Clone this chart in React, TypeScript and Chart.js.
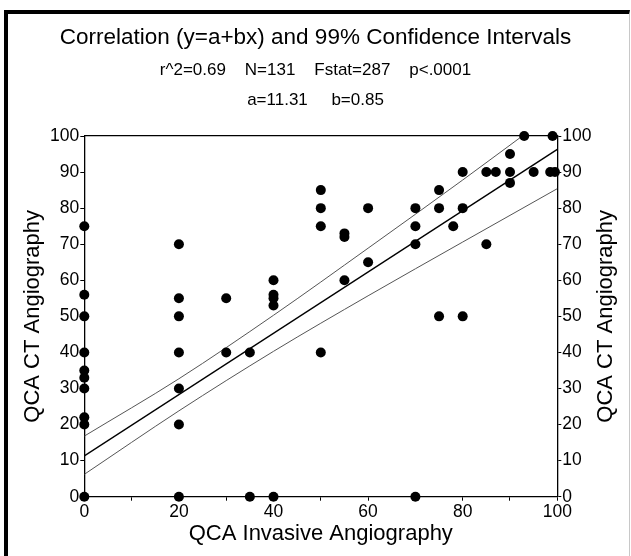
import React, { useEffect, useRef } from "react";
import { Chart, registerables } from "chart.js";

Chart.register(...registerables);

const FONT = "'Liberation Sans', Arial, Helvetica, sans-serif";

const TITLE = "Correlation (y=a+bx) and 99% Confidence Intervals";
const SUBTITLE_LINES = ["r^2=0.69    N=131    Fstat=287    p<.0001", "a=11.31     b=0.85"];
const X_TITLE = "QCA Invasive Angiography";
const Y_TITLE = "QCA CT Angiography";

// Observed points (QCA invasive, QCA CT)
const invasiveX = [
  0, 0, 0, 0, 0, 0, 0, 0, 0, 0,
  20, 20, 20, 20, 20, 20, 20,
  30, 30,
  35, 35,
  40, 40, 40, 40, 40,
  50, 50, 50, 50,
  55, 55, 55,
  60, 60,
  70, 70, 70, 70,
  75, 75, 75,
  78,
  80, 80, 80,
  85, 85,
  87,
  90, 90, 90,
  93,
  95,
  98.5,
  99,
  99.5,
];
const ctY = [
  75, 56, 50, 40, 35, 33, 30, 22, 20, 0,
  70, 55, 50, 40, 30, 20, 0,
  55, 40,
  40, 0,
  60, 56, 55, 53, 0,
  85, 80, 75, 40,
  73, 72, 60,
  80, 65,
  80, 75, 70, 0,
  85, 80, 50,
  75,
  90, 80, 50,
  90, 70,
  90,
  95, 90, 87,
  100,
  90,
  90,
  100,
  90,
];

// Regression line y = a + b x
const fitX = [0, 100];
const fitY = [11.31, 96.31];

// 99% confidence band
const ciX = [0, 20, 40, 60, 80, 100];
const ciUpper = [16.8, 32.7, 50.3, 68.9, 87.8, 107.2];
const ciLower = [6.2, 23.8, 40.3, 55.7, 70.6, 85.4];

const Y_TICKS = [0, 10, 20, 30, 40, 50, 60, 70, 80, 90, 100];
const X_TICKS = [0, 10, 20, 30, 40, 50, 60, 70, 80, 90, 100];
const X_LABELED = [0, 20, 40, 60, 80, 100];

const rightTitlePlugin = {
  id: "rightTitle",
  afterDraw(chart: any) {
    const { ctx, chartArea } = chart;
    ctx.save();
    ctx.translate(606, (chartArea.top + chartArea.bottom) / 2);
    ctx.rotate(-Math.PI / 2);
    ctx.textAlign = "center";
    ctx.textBaseline = "middle";
    ctx.fillStyle = "#000";
    ctx.font = `22px ${FONT}`;
    ctx.fillText(Y_TITLE, 0, 0);
    ctx.restore();
  },
};

export default function App() {
  const ref = useRef<HTMLCanvasElement | null>(null);

  useEffect(() => {
    if (!ref.current) return;
    Chart.defaults.font.family = FONT;
    Chart.defaults.color = "#000";

    const pts = invasiveX.map((x, i) => ({ x, y: ctY[i] }));
    const fit = fitX.map((x, i) => ({ x, y: fitY[i] }));
    const up = ciX.map((x, i) => ({ x, y: ciUpper[i] }));
    const lo = ciX.map((x, i) => ({ x, y: ciLower[i] }));

    const tickFont = { size: 17.5, family: FONT };
    const axisTitleFont = { size: 22, family: FONT, lineHeight: 1.2 };
    const gridOpts = {
      display: true,
      drawOnChartArea: false,
      drawTicks: true,
      tickLength: 4,
      color: "#000",
      lineWidth: 1,
    };
    const borderOpts = { display: true, color: "#000", width: 1.3 };

    const chart = new Chart(ref.current, {
      type: "scatter",
      data: {
        datasets: [
          {
            label: "data",
            data: pts,
            pointRadius: 5,
            pointBackgroundColor: "#000",
            pointBorderWidth: 0,
            showLine: false,
            order: 0,
            clip: false,
            xAxisID: "x",
            yAxisID: "y",
          },
          {
            label: "fit",
            data: fit,
            showLine: true,
            pointRadius: 0,
            borderColor: "#000",
            borderWidth: 1.4,
            fill: false,
            order: 1,
            clip: 0,
            xAxisID: "x",
            yAxisID: "y",
          },
          {
            label: "upper",
            data: up,
            showLine: true,
            pointRadius: 0,
            borderColor: "#555",
            borderWidth: 1,
            fill: false,
            cubicInterpolationMode: "monotone",
            order: 1,
            clip: 0,
            xAxisID: "x",
            yAxisID: "y",
          },
          {
            label: "lower",
            data: lo,
            showLine: true,
            pointRadius: 0,
            borderColor: "#555",
            borderWidth: 1,
            fill: false,
            cubicInterpolationMode: "monotone",
            order: 1,
            clip: 0,
            xAxisID: "x",
            yAxisID: "y",
          },
        ],
      },
      options: {
        responsive: false,
        animation: false,
        devicePixelRatio: 1,
        layout: { padding: 0 },
        plugins: {
          legend: { display: false },
          tooltip: { enabled: false },
          title: {
            display: true,
            text: TITLE,
            color: "#000",
            font: { size: 22.5, weight: "normal", family: FONT, lineHeight: 1.2 },
            padding: { top: 24.5, bottom: 4.25 },
          },
          subtitle: {
            display: true,
            text: SUBTITLE_LINES,
            color: "#000",
            font: { size: 17, weight: "normal", family: FONT, lineHeight: 29.5 / 17 },
            padding: { top: 0, bottom: 0 },
          },
        },
        scales: {
          x: {
            type: "linear",
            position: "bottom",
            min: 0,
            max: 100,
            afterBuildTicks: (s: any) => {
              s.ticks = X_TICKS.map((v) => ({ value: v }));
            },
            ticks: {
              autoSkip: false,
              maxRotation: 0,
              padding: 1,
              color: "#000",
              font: tickFont,
              callback: (v: any) => (X_LABELED.includes(Number(v)) ? String(v) : ""),
            },
            grid: gridOpts,
            border: borderOpts,
            title: {
              display: true,
              text: X_TITLE,
              color: "#000",
              font: axisTitleFont,
              padding: { top: 0, bottom: 8.8 },
            },
            afterFit: (s: any) => {
              s.height = 59.3;
            },
          },
          x2: {
            type: "linear",
            position: "top",
            min: 0,
            max: 100,
            ticks: { display: false },
            grid: { display: false, drawTicks: false },
            border: borderOpts,
            afterFit: (s: any) => {
              s.height = 136 - 114.75;
            },
          },
          y: {
            type: "linear",
            position: "left",
            min: 0,
            max: 100,
            afterBuildTicks: (s: any) => {
              s.ticks = Y_TICKS.map((v) => ({ value: v }));
            },
            ticks: { autoSkip: false, padding: 1, color: "#000", font: tickFont },
            grid: gridOpts,
            border: borderOpts,
            title: {
              display: true,
              text: Y_TITLE,
              color: "#000",
              font: axisTitleFont,
              padding: { top: 19.8, bottom: 0 },
            },
            afterFit: (s: any) => {
              s.width = 84.3;
            },
          },
          y2: {
            type: "linear",
            position: "right",
            min: 0,
            max: 100,
            afterBuildTicks: (s: any) => {
              s.ticks = Y_TICKS.map((v) => ({ value: v }));
            },
            ticks: { autoSkip: false, padding: 1, color: "#000", font: tickFont },
            grid: gridOpts,
            border: borderOpts,
            title: { display: false },
            afterFit: (s: any) => {
              s.width = 631 - 557.3;
            },
          },
        },
      } as any,
      plugins: [rightTitlePlugin],
    });
    return () => chart.destroy();
  }, []);

  return (
    <div
      style={{
        position: "fixed",
        left: 0,
        top: 0,
        width: 631,
        height: 556,
        overflow: "hidden",
        background: "#fff",
      }}
    >
      <div
        style={{
          position: "absolute",
          left: 4,
          top: 10,
          width: 626,
          height: 620,
          borderTop: "4px solid #000",
          borderLeft: "4px solid #000",
          borderRight: "1px solid #c8c8c8",
          boxSizing: "border-box",
        }}
      />
      <canvas
        ref={ref}
        width={631}
        height={556}
        style={{ position: "absolute", left: 0, top: 0, width: 631, height: 556 }}
      />
    </div>
  );
}
